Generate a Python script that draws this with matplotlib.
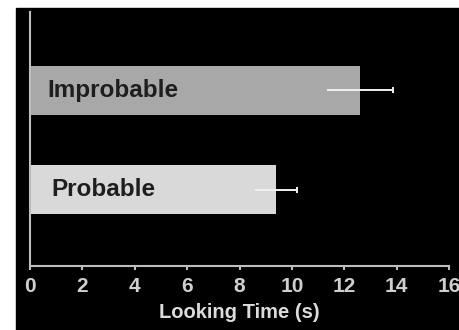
import matplotlib
matplotlib.use('Agg')
import matplotlib.pyplot as plt
from matplotlib.patches import Rectangle

conditions = ['Probable', 'Improbable']
looking_time = [9.4, 12.6]
sem = [0.8, 1.25]
x_ticks = [0, 2, 4, 6, 8, 10, 12, 14, 16]

bar_colors = ['#d9d9d9', '#a8a8a8']
label_x = [0.8, 0.65]

plt.rcParams['font.family'] = ['Liberation Sans', 'DejaVu Sans']
plt.rcParams['font.weight'] = 'bold'

fig = plt.figure(figsize=(4.59, 3.30), dpi=100, facecolor='white')
# black slide background, drawn behind the axes
bg = Rectangle((16 / 459, 0), 1 - 16 / 459, 322 / 330,
               transform=fig.transFigure, color='black', zorder=-10)
fig.add_artist(bg)

ax = fig.add_axes([30 / 459, 64 / 330, 419 / 459, 254 / 330])
ax.set_zorder(5)
ax.set_facecolor('black')

ypos = list(range(len(conditions)))
ax.barh(ypos, looking_time, height=0.5, color=bar_colors, zorder=2)
ax.errorbar(looking_time, ypos, xerr=sem, fmt='none', ecolor='#f0f0f0',
            elinewidth=1.4, capsize=0, zorder=3)
# cap only on the outer end of each error bar
upper_ends = [t + s for t, s in zip(looking_time, sem)]
ax.plot(upper_ends, ypos, linestyle='none', marker='|', markersize=4,
        markeredgewidth=1.4, color='#f0f0f0', zorder=3)

for y, name, lx in zip(ypos, conditions, label_x):
    ax.text(lx, y, name, va='center', ha='left', fontsize=17.5,
            fontweight='bold', color='#1e1e1e', zorder=4)

ax.set_xlim(0, 16)
ax.set_ylim(-0.77, 1.79)
ax.set_xticks(x_ticks)
ax.set_xticklabels([str(t) for t in x_ticks], fontsize=15,
                   fontweight='bold', color='#cfcfcf')
ax.set_yticks([])
ax.tick_params(axis='x', direction='out', length=3, width=1.5,
               color='#bdbdbd', pad=5)
ax.set_xlabel('Looking Time (s)', fontsize=14.5, fontweight='bold',
              color='#dcdcdc', labelpad=5)

for side in ['top', 'right']:
    ax.spines[side].set_visible(False)
for side in ['left', 'bottom']:
    ax.spines[side].set_color('#bdbdbd')
    ax.spines[side].set_linewidth(1.5)

fig.savefig('out.png', dpi=100, facecolor='white')
